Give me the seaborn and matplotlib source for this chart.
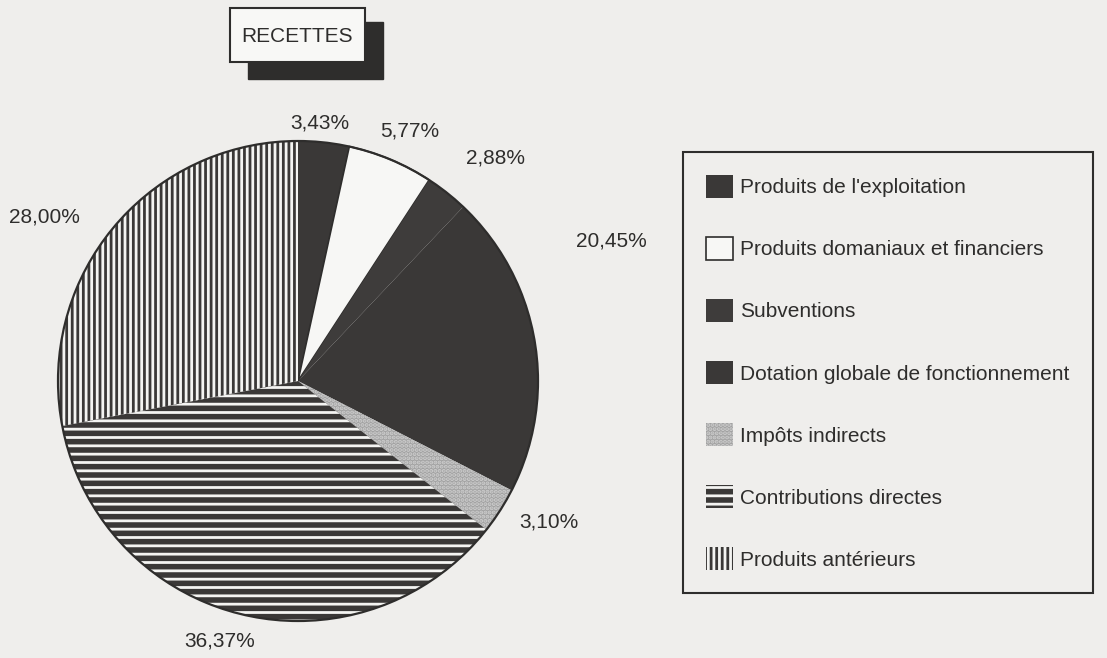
import matplotlib.pyplot as plt
import matplotlib.patches as mpatches
import numpy as np
import seaborn as sns

sns.set_style('white')
plt.rcParams['font.family'] = ['Liberation Sans Narrow', 'Liberation Sans', 'DejaVu Sans']
plt.rcParams['hatch.linewidth'] = 2.0

categories = ["Produits de l'exploitation",
              'Produits domaniaux et financiers',
              'Subventions',
              'Dotation globale de fonctionnement',
              'Impôts indirects',
              'Contributions directes',
              'Produits antérieurs']
shares = [3.43, 5.77, 2.88, 20.45, 3.10, 36.37, 28.00]
title = 'RECETTES'

BG = '#efeeec'
DARK = '#3a3837'
INK = '#2e2d2c'
faces = [DARK, '#f7f7f5', '#3e3c3b', DARK, '#a2a2a2', DARK, DARK]
hatches = [None, None, None, None, '....', '--', '|||']
hatch_cols = [DARK, DARK, '#3e3c3b', DARK, '#cdcdcd', '#f4f4f2', '#f4f4f2']
# where each percentage sits: angle from 12 o'clock (clockwise) and radius factor
label_ang = [4.9, 24.2, 41.5, 66, 119.4, 196.8, 302.9]
label_rad = [1.08, 1.14, 1.24, 1.43, 1.2, 1.13, 1.26]

W, H = 1107, 658
CX, CY, R = 298, 381, 240

fig = plt.figure(figsize=(W / 100, H / 100), dpi=100, facecolor=BG)
ax = fig.add_axes([0, 0, 1, 1])
ax.set_facecolor(BG)

wedges, _ = ax.pie(shares, radius=R, center=(CX, CY), startangle=-90,
                   counterclock=True, wedgeprops={'linewidth': 0})
for w, fc, h, hc in zip(wedges, faces, hatches, hatch_cols):
    w.set_facecolor(fc)
    w.set_edgecolor(hc)
    if h:
        w.set_hatch(h)
wedges[1].set_edgecolor(INK)
wedges[1].set_linewidth(1.2)

# outline of the whole pie
ax.pie([1], radius=R, center=(CX, CY), startangle=-90,
       wedgeprops={'fill': False, 'edgecolor': INK, 'linewidth': 1.6})

ax.set_xlim(0, W)
ax.set_ylim(H, 0)
ax.set_aspect('equal')
ax.axis('off')

for v, a, r in zip(shares, label_ang, label_rad):
    th = np.deg2rad(a)
    x = CX + R * r * np.sin(th)
    y = CY - R * r * np.cos(th)
    ax.text(x, y, f'{v:.2f}%'.replace('.', ','), ha='center', va='center',
            fontsize=15, color=INK)

# title box with drop shadow
ax.add_patch(mpatches.Rectangle((248, 22), 135, 57, facecolor=INK, edgecolor=INK))
ax.add_patch(mpatches.Rectangle((230, 8), 135, 54, facecolor='#f8f8f6',
                                edgecolor=INK, linewidth=1.5))
ax.text(297, 36, title, ha='center', va='center', fontsize=15, color=INK)

leg = fig.legend(wedges, categories, loc='upper left',
                 bbox_to_anchor=(683 / W, 1 - 152 / H), borderaxespad=0,
                 fontsize=15, handlelength=1.3, handleheight=1.3,
                 handletextpad=0.35, labelspacing=1.89, borderpad=1.1,
                 fancybox=False, frameon=True, labelcolor=INK)
leg.get_frame().set_edgecolor(INK)
leg.get_frame().set_linewidth(1.5)
leg.get_frame().set_facecolor(BG)
leg.get_frame().set_alpha(1)

fig.savefig('out.png', dpi=100, facecolor=BG)
